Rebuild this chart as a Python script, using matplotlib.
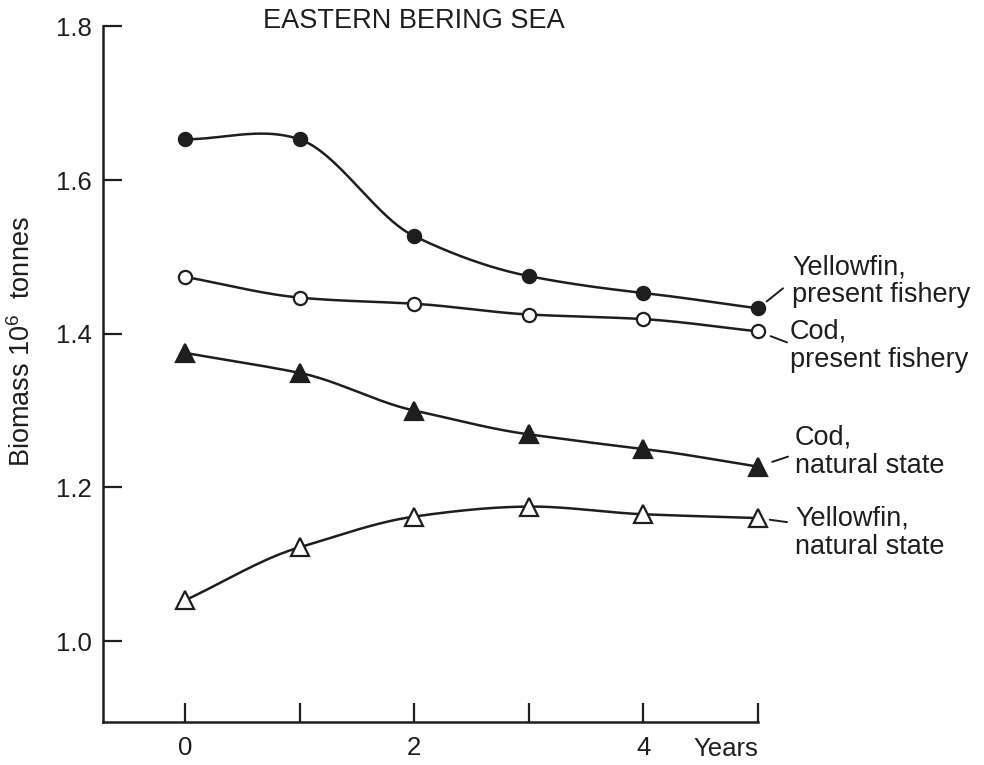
import numpy as np
import matplotlib
matplotlib.use("Agg")
import matplotlib.pyplot as plt

plt.rcParams['font.family'] = ['Liberation Sans', 'DejaVu Sans']
plt.rcParams['mathtext.fontset'] = 'custom'
plt.rcParams['mathtext.rm'] = 'Liberation Sans'

years = [0, 1, 2, 3, 4, 5]
yellowfin_present = [1.653, 1.653, 1.527, 1.475, 1.453, 1.433]
cod_present = [1.474, 1.447, 1.439, 1.425, 1.419, 1.403]
cod_natural = [1.375, 1.349, 1.300, 1.269, 1.250, 1.227]
yellowfin_natural = [1.053, 1.122, 1.162, 1.175, 1.165, 1.160]

x_ticks = [0, 1, 2, 3, 4, 5]
x_tick_labels = ['0', '', '2', '', '4', '']
y_ticks = [1.0, 1.2, 1.4, 1.6, 1.8]

INK = '#1e1e1e'


def smooth(x, y, n=300, tension=0.8):
    # cardinal-spline cubic through the points, only to draw the curve
    x = np.asarray(x, float)
    y = np.asarray(y, float)
    k = len(x)
    m = np.zeros(k)
    m[0] = (y[1] - y[0]) / (x[1] - x[0])
    m[-1] = (y[-1] - y[-2]) / (x[-1] - x[-2])
    m[1:-1] = tension * (y[2:] - y[:-2]) / (x[2:] - x[:-2])
    xs, ys = [], []
    for i in range(k - 1):
        h = x[i + 1] - x[i]
        t = np.linspace(0, 1, n // (k - 1))
        h00 = 2 * t ** 3 - 3 * t ** 2 + 1
        h10 = t ** 3 - 2 * t ** 2 + t
        h01 = -2 * t ** 3 + 3 * t ** 2
        h11 = t ** 3 - t ** 2
        xs.append(x[i] + t * h)
        ys.append(h00 * y[i] + h10 * h * m[i] + h01 * y[i + 1] + h11 * h * m[i + 1])
    return np.concatenate(xs), np.concatenate(ys)


fig = plt.figure(figsize=(9.84, 7.65), dpi=100)
ax = fig.add_axes([103 / 984, 43 / 765, 655 / 984, 695.6 / 765])

series = [
    (yellowfin_present, 'o', INK, 9.5, "Yellowfin,\npresent fishery", (24.5, 19.5), (18, 14.4), 8),
    (cod_present, 'o', 'white', 9.5, "Cod,\npresent fishery", (23, -10.4), (20.9, -7.9), 9.7),
    (cod_natural, '^', INK, 13, "Cod,\nnatural state", (26.6, 10.4), (21.6, 7.2), 10.8),
    (yellowfin_natural, '^', 'white', 13, "Yellowfin,\nnatural state", (26.6, -10.4), (20.9, -2.9), 8.6),
]

for vals, marker, face, ms, label, text_off, dash_off, shrink in series:
    xs, ys = smooth(years, vals)
    ax.plot(xs, ys, color=INK, lw=1.8, zorder=2)
    ax.plot(years, vals, linestyle='none', marker=marker, ms=ms,
            mfc=face, mec=INK, mew=1.6, zorder=3, clip_on=False)
    ax.annotate(label, xy=(years[-1], vals[-1]), xytext=text_off,
                textcoords='offset points', ha='left', va='center',
                fontsize=19.5, linespacing=1.12, color=INK, annotation_clip=False)
    ax.annotate('', xy=(years[-1], vals[-1]), xytext=dash_off,
                textcoords='offset points', annotation_clip=False,
                arrowprops=dict(arrowstyle='-', color=INK, lw=1.4,
                                shrinkA=0, shrinkB=shrink))

ax.set_xlim(-0.716, 5.0)
ax.set_ylim(0.8946, 1.8)
ax.set_xticks(x_ticks)
ax.set_xticklabels(x_tick_labels)
ax.set_yticks(y_ticks)
ax.set_yticklabels([f"{v:.1f}" for v in y_ticks])

for side in ['top', 'right']:
    ax.spines[side].set_visible(False)
for side in ['left', 'bottom']:
    ax.spines[side].set_linewidth(1.8)
    ax.spines[side].set_color(INK)

ax.tick_params(axis='both', direction='in', length=14, width=1.6,
               colors=INK, labelsize=18.5)
ax.tick_params(axis='x', pad=10)
ax.tick_params(axis='y', pad=8)

ax.text(5.0, -0.0216, "Years", transform=ax.get_xaxis_transform(),
        ha='right', va='top', fontsize=18.5, color=INK)

fig.text(22 / 984, 1 - 342 / 765, "Biomass 10$^6$  tonnes", rotation=90,
         ha='center', va='center', fontsize=19.5, color=INK)

fig.text(414 / 984, 1 - 21 / 765, "EASTERN BERING SEA", ha='center',
         va='center', fontsize=19.5, color=INK)

fig.savefig("out.png", dpi=100)
